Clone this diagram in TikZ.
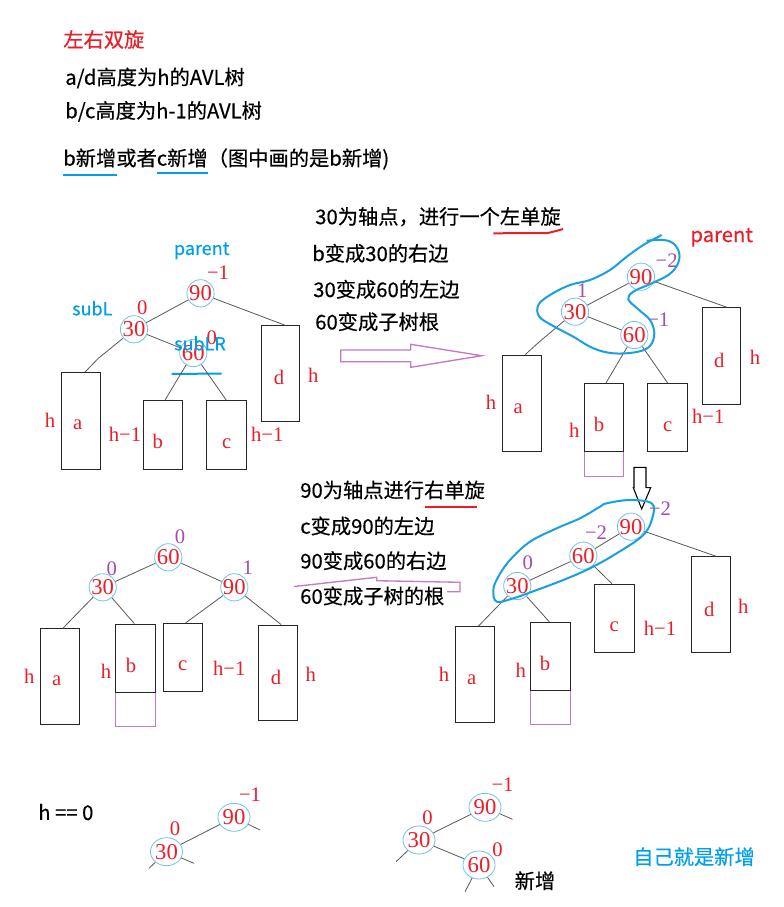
\documentclass[tikz,border=0pt]{standalone}
\usepackage{fontspec}
\setmainfont{Liberation Serif}
\newfontfamily\cjk[FakeBold=0.4]{Noto Sans CJK SC}
\usetikzlibrary{shapes.geometric,fit}
\definecolor{myred}{RGB}{235,30,40}
\definecolor{mypurple}{RGB}{165,75,170}
\definecolor{myblue}{RGB}{0,160,233}
\definecolor{circ}{RGB}{110,195,235}
\definecolor{lasblue}{RGB}{25,160,225}
\definecolor{lpurple}{RGB}{195,120,200}
\begin{document}
\begin{tikzpicture}[x=0.75pt,y=-0.75pt,
  txt/.style={font=\cjk\fontsize{15.2}{18}\selectfont, anchor=west, inner sep=0pt},
  ctxt/.style={font=\cjk\fontsize{15.2}{18}\selectfont, inner sep=0pt},
  bl/.style={font=\cjk\fontsize{13.5}{16}\selectfont, text=myblue, inner sep=0pt},
  nd/.style={circle, draw=circ, line width=0.6pt, minimum size=19pt, inner sep=0pt, text=myred, font=\fontsize{17}{18}\selectfont},
  ndE/.style={ellipse, draw=circ, line width=0.6pt, minimum width=18pt, minimum height=21pt, inner sep=0pt, text=myred, font=\fontsize{17}{18}\selectfont},
  lab/.style={text=myred, font=\fontsize{15.5}{18}\selectfont, inner sep=0pt},
  bal/.style={text=mypurple, font=\fontsize{15.5}{18}\selectfont, inner sep=0pt},
  box/.style={draw=black!85, line width=0.75pt, inner sep=0pt},
  pbox/.style={draw=lpurple, line width=0.75pt, inner sep=0pt},
  link/.style={draw=black!65, line width=0.6pt},
  lasso/.style={draw=lasblue, line width=1.5pt},
  uline/.style={line width=1.5pt}
]
\useasboundingbox (0,0) rectangle (783,907);
\fill[white] (0,0) rectangle (783,907);

% ---------- header text ----------
\node[txt, text=myred] (t0) at (63,39.5) {左右双旋};
\node[txt] (t1) at (65,78) {a/d高度为h的AVL树};
\node[txt] (t2) at (65,111.5) {b/c高度为h-1的AVL树};
\node[txt] (t3) at (63,159) {b新增或者c新增（图中画的是b新增)};
\draw[uline, myblue] (63.3,175) -- (116.7,175);
\draw[uline, myblue] (156.7,172.5) -- (208.3,172.5);

% ---------- tree 1 ----------
\node[bl] (p1) at (201.7,250.7) {parent};
\node[lab] (b90a) at (218,272.7) {−1};
\node[bl] (sl1) at (92.3,308.3) {subL};
\node[lab] (b30a) at (142.3,307.3) {0};
\node[nd] (n90a) at (200.5,293.3) {90};
\node[nd] (n30a) at (134,329.3) {30};
\node[nd] (n60a) at (193.3,353) {60};
\node[lab] (b60a) at (211.7,337.3) {0};
\node[bl] (slr1) at (200,343.3) {subLR};
\draw[uline, myblue] (171.7,374) -- (221.7,373.5);
\node[box, fit={(61.7,372.7) (100,469)}] (a1) {};
\node[box, fit={(143.3,400.7) (182.3,469)}] (bb1) {};
\node[box, fit={(206.7,400.7) (246,469)}] (c1) {};
\node[box, fit={(261.3,325.7) (299.3,421.7)}] (d1) {};
\draw[link] (n90a) -- (n30a);
\draw[link] (n90a) -- ([xshift=3.5pt]d1.north);
\draw[link] (n30a) -- (98.3,358.3) -- ([xshift=3pt]a1.north);
\draw[link] (n30a) -- (n60a);
\draw[link] (n60a) -- ([xshift=1.6pt]bb1.north);
\draw[link] (n60a) -- (c1.north);
\node[lab] (h1a) at (50,420) {h};
\node[lab] (la1) at (77.7,425) {a};
\node[lab] (h1b) at (125,434.3) {h−1};
\node[lab] (lb1) at (157.7,441.7) {b};
\node[lab] (lc1) at (226.7,443.3) {c};
\node[lab] (h1c) at (267.3,434) {h−1};
\node[lab] (ld1) at (279,377.3) {d};
\node[lab] (h1d) at (313.3,375) {h};

% ---------- step 1 text and arrow ----------
\node[txt] (s1) at (315,216.7) {30为轴点，进行一个左单旋};
\draw[uline, myred] (493.3,233.3) -- (548,233) -- (556,231) -- (563,229);
\node[txt] (s2) at (312,253.3) {b变成30的右边};
\node[txt] (s3) at (313,289.3) {30变成60的左边};
\node[txt] (s4) at (315,321.7) {60变成子树根};
\draw[lpurple, line width=1pt] (340.7,350) -- (410.7,350) -- (410.7,344.3) -- (481.7,355.7) -- (410.7,367.3) -- (410.7,361.7) -- (340.7,361.7) -- cycle;

% ---------- tree 2 ----------
\node[ctxt, text=myred] (p2) at (721.7,237.3) {parent};
\node[nd] (n90b) at (641,276.7) {90};
\node[nd] (n30b) at (575,311.7) {30};
\node[nd] (n60b) at (634.3,335) {60};
\node[bal] (b90b) at (666.7,260.7) {−2};
\node[bal] (b30b) at (582.3,290.7) {1};
\node[bal] (b60b) at (658.3,319.3) {−1};
\node[pbox, fit={(584,451) (623.3,476)}] (pb2) {};
\node[box, fit={(502.7,355.3) (541,451)}] (a2) {};
\node[box, fit={(584,383.3) (623.3,451)}] (bb2) {};
\node[box, fit={(647.7,383.3) (687.3,451)}] (c2) {};
\node[box, fit={(702.3,307.7) (740.3,404)}] (d2) {};
\draw[link] (n90b) -- (n30b);
\draw[link] (n90b) -- ([xshift=4pt]d2.north);
\draw[link] (n30b) -- (n60b);
\draw[link] (n30b) -- (538.3,342.7) -- ([xshift=2.4pt]a2.north);
\draw[link] (n60b) -- ([xshift=1.8pt]bb2.north);
\draw[link] (n60b) -- (c2.north);
\node[lab] (h2a) at (491,402.7) {h};
\node[lab] (la2) at (518.3,408.3) {a};
\node[lab] (h2b) at (574.3,430) {h};
\node[lab] (lb2) at (599,424) {b};
\node[lab] (lc2) at (667.7,426.7) {c};
\node[lab] (h2c) at (708.3,416.7) {h−1};
\node[lab] (ld2) at (719.3,360) {d};
\node[lab] (h2d) at (755,357.3) {h};
\draw[lasso] plot[smooth, tension=0.6] coordinates {(646.7,240.7) (663.3,240) (673.3,243.3) (679.3,253.3) (677.3,265) (668.3,275) (651.7,283.3) (633.3,291.7) (628.3,299.3) (638.3,309.3) (650,320) (654.3,333.3) (650,346) (636.7,352) (613.3,353.3) (593.3,348.3) (573.3,336.7) (553.3,326) (539.3,316.7) (538.3,305) (550,295) (570,285) (590,280) (610,270) (626.7,256.7) (643.3,245) (661.7,235)};

% ---------- down arrow ----------
\draw[black, line width=0.8pt] (634,467.3) -- (646,467.3) -- (646,487.7) -- (650.7,487.7) -- (641.7,509) -- (633.3,487.7) -- (634,487.7) -- cycle;

% ---------- step 2 text ----------
\node[txt] (r1) at (300,490) {90为轴点进行右单旋};
\draw[uline, myred] (425,506.7) -- (476.7,506.7);
\node[txt] (r2) at (300,526) {c变成90的左边};
\node[txt] (r3) at (300,560.7) {90变成60的右边};
\node[txt] (r4) at (300,596) {60变成子树的根};
\draw[lpurple, line width=1pt] (447,591.7) -- (460,591.7) -- (460,582.3) -- (376.7,580.7) -- (376.7,577.3) -- (294,586.5);

% ---------- tree 3 (result) ----------
\node[nd] (n60c) at (168.3,557.3) {60};
\node[nd] (n30c) at (102.7,587.3) {30};
\node[nd] (n90c) at (234.3,587.3) {90};
\node[bal] (b60c) at (180,536.7) {0};
\node[bal] (b30c) at (111.7,568.3) {0};
\node[bal] (b90c) at (247.7,567.7) {1};
\node[pbox, fit={(115.7,692.3) (155.3,726.7)}] (pb3) {};
\node[box, fit={(40.7,628.3) (79.3,724.3)}] (a3) {};
\node[box, fit={(115.7,624) (155.3,692.3)}] (bb3) {};
\node[box, fit={(163.3,623.3) (202.3,691)}] (c3) {};
\node[box, fit={(258.7,625) (297,720.7)}] (d3) {};
\draw[link] (n60c) -- (n30c);
\draw[link] (n60c) -- (n90c);
\draw[link] (n30c) -- ([xshift=2.5pt]a3.north);
\draw[link] (n30c) -- ([xshift=-0.9pt]bb3.north);
\draw[link] (n90c) -- ([xshift=2.2pt]c3.north);
\draw[link] (n90c) -- ([xshift=2.4pt]d3.north);
\node[lab] (h3a) at (29.3,676) {h};
\node[lab] (la3) at (56.7,680.7) {a};
\node[lab] (h3b) at (106,671.7) {h};
\node[lab] (lb3) at (131,665) {b};
\node[lab] (lc3) at (182.7,666) {c};
\node[lab] (h3c) at (229.3,668.3) {h−1};
\node[lab] (ld3) at (276,677.3) {d};
\node[lab] (h3d) at (310.7,674.3) {h};

% ---------- tree 4 ----------
\node[nd] (n90d) at (631,526.7) {90};
\node[nd] (n60d) at (583.3,555.7) {60};
\node[nd] (n30d) at (517.3,586) {30};
\node[bal] (b90d) at (660,508.3) {−2};
\node[bal] (b60d) at (596,532.3) {−2};
\node[bal] (b30d) at (527.7,562.7) {0};
\node[pbox, fit={(530.7,690.3) (570,724.3)}] (pb4) {};
\node[box, fit={(455.7,626.7) (494,722.7)}] (a4) {};
\node[box, fit={(530.7,622.3) (570,690.3)}] (bb4) {};
\node[box, fit={(594.3,584) (634,652.3)}] (c4) {};
\node[box, fit={(691.7,556.7) (730.3,652.7)}] (d4) {};
\draw[link] (n90d) -- (n60d);
\draw[link] (n60d) -- (n30d);
\draw[link] (n90d) -- ([xshift=3.7pt]d4.north);
\draw[link] (n60d) -- ([xshift=-1.8pt]c4.north);
\draw[link] (n30d) -- ([xshift=2.6pt]a4.north);
\draw[link] (n30d) -- ([xshift=-0.8pt]bb4.north);
\node[lab] (h4a) at (444,674) {h};
\node[lab] (la4) at (471.7,679.3) {a};
\node[lab] (h4b) at (520.7,670) {h};
\node[lab] (lb4) at (545,663.3) {b};
\node[lab] (lc4) at (614.3,626.7) {c};
\node[lab] (h4c) at (660,628.3) {h−1};
\node[lab] (ld4) at (709.3,609.3) {d};
\node[lab] (h4d) at (743.3,606) {h};
\draw[lasso] plot[smooth cycle, tension=0.6] coordinates {(606.7,503.3) (630,500) (651.7,503.3) (652.7,516.7) (643.3,535) (616.7,553.3) (590,568.3) (563.3,580) (536.7,590) (513.3,598.3) (496.7,601.7) (493.3,590) (498.3,576.7) (510,560) (530,541.7) (556.7,528.3) (580,518.3) (600,506.7)};

% ---------- bottom: h == 0 ----------
\node[txt] (h0) at (38,812) {h == 0};
\node[ndE] (n90e) at (234,817.3) {90};
\node[ndE] (n30e) at (166.5,851.7) {30};
\node[lab] (b90e) at (250,795) {−1};
\node[lab] (b30e) at (175,828.3) {0};
\coordinate (e1) at (260,830);
\coordinate (e2) at (149,868.3);
\coordinate (e3) at (194,863.3);
\draw[link] (n90e) -- (n30e);
\draw[link] (n90e) -- (e1);
\draw[link] (n30e) -- (e2);
\draw[link] (n30e) -- (e3);

\node[ndE] (n90f) at (485,807.3) {90};
\node[ndE] (n30f) at (419,840) {30};
\node[ndE] (n60f) at (479,865) {60};
\node[lab] (b90f) at (502.5,785) {−1};
\node[lab] (b30f) at (427.5,817.3) {0};
\node[lab] (b60f) at (497.5,849.3) {0};
\coordinate (f1) at (512.5,819.3);
\coordinate (f2) at (396,861.7);
\coordinate (f3) at (465,891.7);
\coordinate (f4) at (494,886.7);
\draw[link] (n90f) -- (n30f);
\draw[link] (n90f) -- (f1);
\draw[link] (n30f) -- (n60f);
\draw[link] (n30f) -- (f2);
\draw[link] (n60f) -- (f3);
\draw[link] (n60f) -- (f4);
\node[ctxt] (xz) at (535,880.7) {新增};
\node[ctxt, text=myblue] (zj) at (694,856.7) {自己就是新增};
\end{tikzpicture}
\end{document}
